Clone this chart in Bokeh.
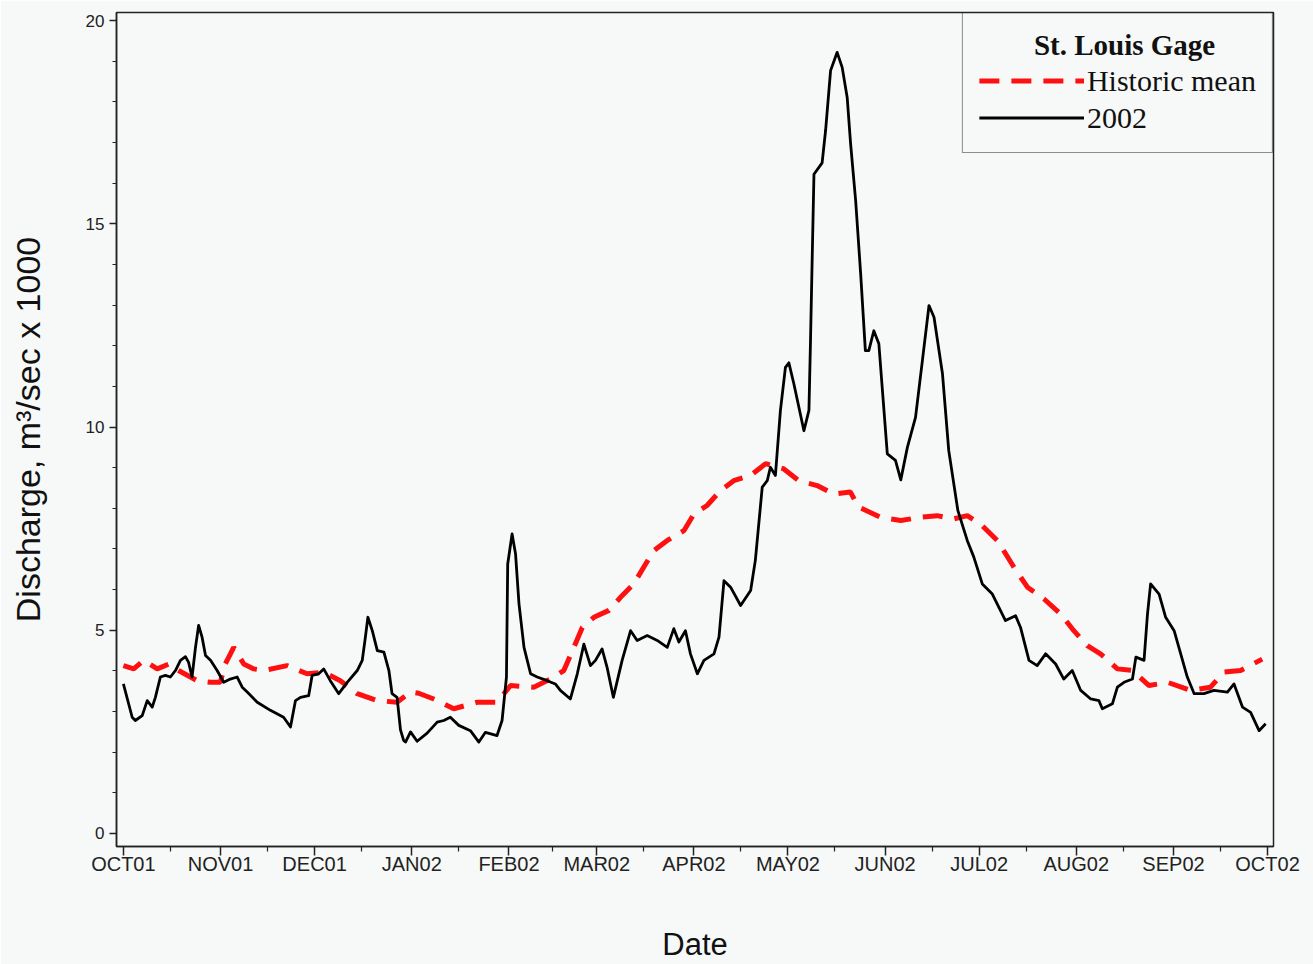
import pandas as pd
from bokeh.plotting import figure
from bokeh.models import (ColumnDataSource, FixedTicker, Range1d, Legend,
                          LegendItem)
from bokeh.core.properties import value
from bokeh.embed import file_html
from bokeh.resources import INLINE

# ---------------- data ----------------
start_date = "2001-10-01"

month_starts = ["2001-10-01", "2001-11-01", "2001-12-01", "2002-01-01",
                "2002-02-01", "2002-03-01", "2002-04-01", "2002-05-01",
                "2002-06-01", "2002-07-01", "2002-08-01", "2002-09-01",
                "2002-10-01"]
month_labels = ["OCT01", "NOV01", "DEC01", "JAN02", "FEB02", "MAR02",
                "APR02", "MAY02", "JUN02", "JUL02", "AUG02", "SEP02", "OCT02"]
mid_months = ["2001-10-16", "2001-11-16", "2001-12-16", "2002-01-16",
              "2002-02-15", "2002-03-16", "2002-04-16", "2002-05-16",
              "2002-06-16", "2002-07-16", "2002-08-16", "2002-09-16"]

y_major = [0, 5, 10, 15, 20]
y_minor = list(range(0, 21))

# 2002 daily discharge (days after 1 Oct 2001, m3/s x 1000)
days_2002 = [0, 2.8, 3.8, 6, 7.6, 9.2, 10.2, 11.8, 13.4, 15, 16.6, 18.2, 19.8,
             20.8, 21.9, 23, 24, 25.1, 26.2, 27.8, 29.9, 32, 34.1, 36.3, 37.9,
             39.5, 42.7, 46.9, 51.1, 53.3, 54.9, 56.5, 59.1, 60.2, 62.3, 63.9,
             66, 68.7, 71.4, 74.6, 76.2, 77.2, 78, 79.4, 81, 83.1, 84.7, 85.7,
             87.3, 88.4, 89.4, 90, 91.6, 93.7, 96.9, 100.1, 102.2, 104.3, 107,
             110.7, 113.4, 115.5, 119.2, 120.8, 122.2, 122.6, 124, 125.1,
             126.2, 127.8, 129.9, 132, 135.2, 137.8, 139.4, 142.6, 144.8,
             146.9, 149, 150.6, 152.7, 154.3, 156.3, 159.1, 161.8, 163.9,
             167.1, 170.3, 173.5, 175.6, 177.2, 179.3, 180.9, 183.1, 185.2,
             188.4, 190, 191.6, 193.7, 196.9, 200.1, 201.6, 203.8, 205.4,
             206.4, 208, 209.6, 211.2, 212.3, 213.9, 217.1, 218.7, 219.2,
             219.7, 220.3, 222.9, 224, 225.6, 227.7, 229.3, 230.9, 232, 233.6,
             235.2, 236.7, 237.8, 239.4, 241, 243.7, 246.3, 248, 250.1, 252.7,
             254.9, 257, 258.6, 261.3, 263.3, 266.2, 269.2, 271.3, 274, 277.2,
             281.4, 284.6, 286.2, 288.9, 291.5, 294.2, 297.4, 300, 302.7,
             305.4, 308.6, 311.2, 312.3, 315.5, 317.1, 319.2, 321.9, 323,
             325.6, 326.7, 327.7, 330.4, 332.5, 335.2, 339.4, 341.6, 344.7,
             347.9, 352.2, 354.3, 357, 359.6, 362.3, 364.4]
flow_2002 = [3.68, 2.86, 2.78, 2.90, 3.27, 3.11, 3.35, 3.85, 3.89, 3.85, 4.01,
             4.26, 4.35, 4.21, 3.85, 4.58, 5.12, 4.83, 4.38, 4.26, 4.01, 3.72,
             3.80, 3.85, 3.60, 3.48, 3.23, 3.03, 2.86, 2.62, 3.27, 3.35, 3.39,
             3.89, 3.93, 4.05, 3.76, 3.44, 3.72, 4.01, 4.26, 4.83, 5.32, 4.99,
             4.50, 4.46, 4.01, 3.44, 3.35, 2.55, 2.29, 2.25, 2.50, 2.27, 2.47,
             2.74, 2.78, 2.86, 2.66, 2.53, 2.25, 2.49, 2.41, 2.78, 3.85, 6.63,
             7.37, 6.88, 5.65, 4.58, 3.93, 3.85, 3.76, 3.68, 3.52, 3.31, 3.93,
             4.66, 4.13, 4.26, 4.54, 4.09, 3.35, 4.26, 4.99, 4.75, 4.87, 4.75,
             4.58, 5.04, 4.71, 4.99, 4.42, 3.93, 4.26, 4.42, 4.83, 6.22, 6.06,
             5.61, 5.98, 6.72, 8.52, 8.68, 9.01, 8.81, 10.41, 11.47, 11.58,
             11.06, 9.91, 10.41, 12.13, 14.01, 16.22, 16.5, 17.29, 18.77,
             19.22, 18.85, 18.11, 16.96, 15.57, 13.77, 11.88, 11.88, 12.37,
             12.05, 9.34, 9.18, 8.70, 9.50, 10.24, 11.64, 12.99, 12.70, 11.31,
             9.42, 7.95, 7.21, 6.80, 6.14, 5.89, 5.24, 5.36, 5.07, 4.26, 4.13,
             4.42, 4.17, 3.80, 4.01, 3.52, 3.31, 3.27, 3.07, 3.19, 3.60, 3.72,
             3.80, 4.34, 4.26, 5.40, 6.14, 5.89, 5.32, 4.99, 3.85, 3.44, 3.44,
             3.52, 3.48, 3.68, 3.11, 2.98, 2.53, 2.70]

# historic mean discharge
days_mean = [0, 3.3, 6.5, 10.8, 14.5, 17.6, 23.5, 27.8, 30.9, 32.5, 35.2, 38.4,
             41.6, 44.8, 52.2, 58.6, 63.9, 69.2, 74.6, 81, 87.3, 91.6, 94.2,
             99, 105.4, 112.9, 119.2, 123.5, 130.9, 136.2, 140.5, 143.7,
             146.4, 150.1, 154.9, 158.6, 162.8, 166.6, 169.2, 173.5, 178.8,
             182, 186.2, 190.5, 194.7, 200.1, 204.9, 210.7, 215.5, 221.3,
             226.6, 231.9, 234.6, 241.5, 248, 254.3, 259.6, 264.9, 269.2,
             273.5, 278.8, 284.1, 288.4, 293.7, 299, 303.2, 307.5, 311.7,
             317.1, 321.9, 327.2, 333.1, 340.5, 346.8, 351.1, 356.4, 363.3]
flow_mean = [4.13, 4.05, 4.26, 4.05, 4.17, 4.01, 3.76, 3.72, 3.72, 4.17, 4.58,
             4.17, 4.05, 4.01, 4.13, 3.93, 3.97, 3.76, 3.44, 3.27, 3.23, 3.48,
             3.45, 3.31, 3.07, 3.23, 3.23, 3.64, 3.60, 3.80, 4.01, 4.58, 5.07,
             5.32, 5.49, 5.81, 6.14, 6.63, 6.96, 7.21, 7.45, 7.86, 8.07, 8.44,
             8.68, 8.81, 9.10, 8.97, 8.68, 8.56, 8.35, 8.40, 8.03, 7.78, 7.70,
             7.78, 7.82, 7.74, 7.82, 7.61, 7.21, 6.55, 6.06, 5.77, 5.40, 4.99,
             4.62, 4.42, 4.05, 4.01, 3.64, 3.72, 3.52, 3.60, 3.97, 4.01, 4.29]

legend_title = "St. Louis Gage"
legend_labels = ["Historic mean", "2002"]

# ---------------- helpers ----------------
t0 = pd.Timestamp(start_date)
DAY_MS = 86400000.0


def to_ms(ts):
    return pd.Timestamp(ts).value / 1e6


def days_to_dates(days):
    return [t0 + pd.Timedelta(days=d) for d in days]


src_2002 = ColumnDataSource(dict(date=days_to_dates(days_2002), q=flow_2002))
src_mean = ColumnDataSource(dict(date=days_to_dates(days_mean), q=flow_mean))

BG = "#F7F9F8"
x_start = to_ms(t0) - 2.2 * DAY_MS
x_end = to_ms(month_starts[-1]) + 1.9 * DAY_MS

p = figure(width=1313, height=964, x_axis_type="datetime",
           x_range=Range1d(x_start, x_end), y_range=Range1d(-0.32, 20.2),
           output_backend="svg", toolbar_location=None,
           min_border_left=116, min_border_right=40,
           min_border_top=12, min_border_bottom=118,
           background_fill_color=BG, border_fill_color=BG)

r_mean = p.line("date", "q", source=src_mean, line_color="#FF1010",
                line_width=5, line_dash="20 12")
r_2002 = p.line("date", "q", source=src_2002, line_color="black",
                line_width=2.8, line_join="round")

# legend heading, centred in the legend box (drawn beneath a transparent legend)
p.text(x=[to_ms(t0) + 319.4 * DAY_MS], y=[19.41], text=[legend_title],
       text_font=value("Liberation Serif"), text_font_size="29px",
       text_font_style="bold", text_align="center", text_baseline="middle",
       text_color="#111111")

p.xgrid.grid_line_color = None
p.ygrid.grid_line_color = None
p.outline_line_color = "#222222"
p.outline_line_width = 1.5
p.outline_line_alpha = 1

# x axis
xa = p.xaxis[0]
xa.ticker = FixedTicker(ticks=[to_ms(d) for d in month_starts],
                        minor_ticks=[to_ms(d) for d in mid_months])
xa.major_label_overrides = {to_ms(d): lab for d, lab in zip(month_starts, month_labels)}
xa.axis_label = "Date"

# y axis
ya = p.yaxis[0]
ya.ticker = FixedTicker(ticks=y_major, minor_ticks=y_minor)
ya.axis_label = "Discharge, m³/sec x 1000"

for ax in (xa, ya):
    ax.axis_line_color = "#222222"
    ax.axis_line_width = 1.5
    ax.major_tick_line_color = "#222222"
    ax.minor_tick_line_color = "#222222"
    ax.major_tick_line_width = 1.5
    ax.minor_tick_line_width = 1.2
    ax.major_tick_in = 0
    ax.minor_tick_in = 0
    ax.major_label_text_font = "Liberation Sans"
    ax.major_label_text_color = "#222222"
    ax.axis_label_text_font = "Liberation Sans"
    ax.axis_label_text_font_style = "normal"
    ax.axis_label_text_color = "#111111"

xa.major_tick_out = 9
xa.minor_tick_out = 5
xa.major_label_text_font_size = "20px"
xa.major_label_standoff = -3
xa.axis_label_text_font_size = "31px"
xa.axis_label_standoff = 49

ya.major_tick_out = 7
ya.minor_tick_out = 4
ya.major_label_text_font_size = "17px"
ya.major_label_standoff = 5
ya.axis_label_text_font_size = "34px"
ya.axis_label_standoff = 36

# legend
legend = Legend(items=[LegendItem(label=legend_labels[0], renderers=[r_mean]),
                       LegendItem(label=legend_labels[1], renderers=[r_2002])],
                location="top_right", margin=0, padding=16, spacing=0,
                title=" ", title_text_font="Liberation Serif",
                title_text_font_size="29px", title_standoff=0,
                glyph_width=105, glyph_height=37, label_height=37,
                label_standoff=3, label_text_font="Liberation Serif",
                label_text_font_size="30px", label_text_color="#111111",
                border_line_color="#222222", border_line_width=1.5,
                background_fill_alpha=0)
p.add_layout(legend)

open("out.html", "w").write(file_html(p, INLINE))
